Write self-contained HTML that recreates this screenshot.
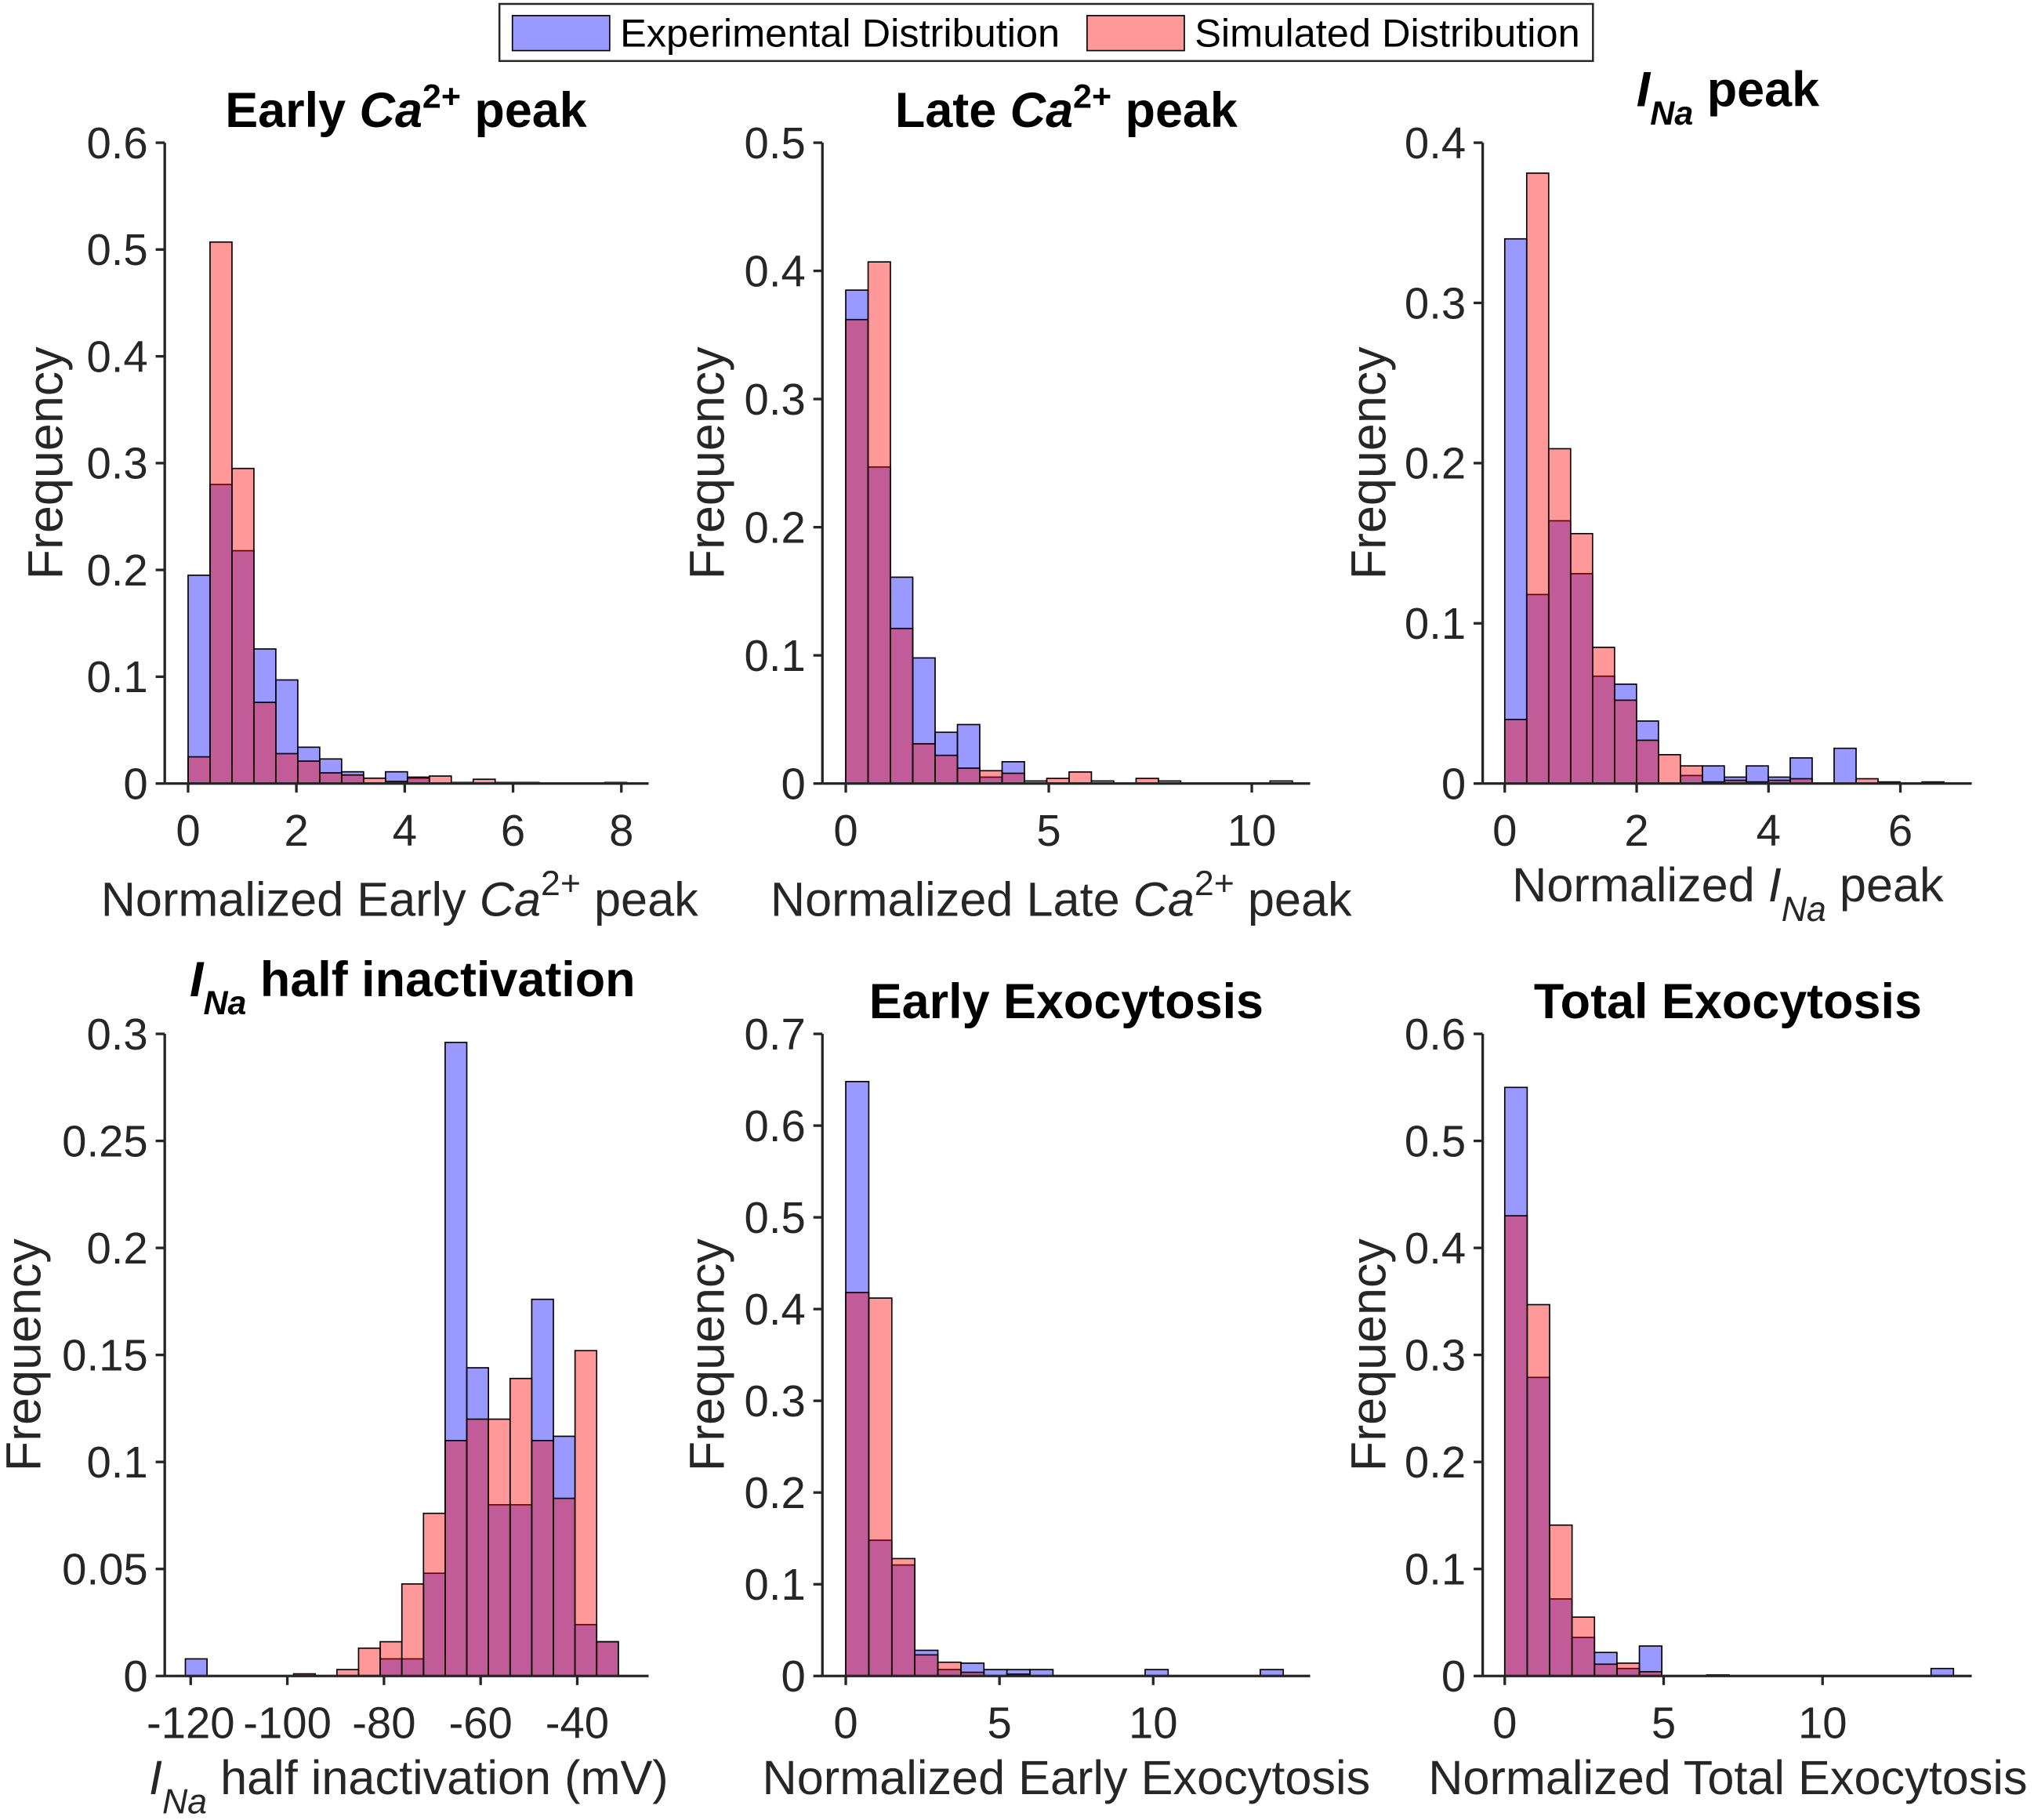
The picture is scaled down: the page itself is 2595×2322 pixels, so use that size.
<!DOCTYPE html>
<html><head><meta charset="utf-8">
<style>
html,body{margin:0;padding:0;background:#fff;}
svg{display:block;font-family:"Liberation Sans",Arial,sans-serif;}
</style></head>
<body>
<svg id="fig" xmlns="http://www.w3.org/2000/svg" width="2595" height="2322" viewBox="0 0 1568 1403">
<rect x="0" y="0" width="1568" height="1403" fill="#fff"/>
<g>
<rect x="385" y="3" width="843" height="44" fill="#fff" stroke="#262626" stroke-width="1.5"/>
<rect x="395" y="12" width="75" height="27" fill="#9999ff" stroke="#000" stroke-width="1"/>
<text x="478" y="36" font-size="30.5" fill="#000" textLength="339" lengthAdjust="spacingAndGlyphs">Experimental Distribution</text>
<rect x="838" y="12" width="75" height="27" fill="#ff9999" stroke="#000" stroke-width="1"/>
<text x="921" y="36" font-size="30.5" fill="#000" textLength="297" lengthAdjust="spacingAndGlyphs">Simulated Distribution</text>
</g>
</svg>
<script>
// ---- data arrays (bin starts, bin widths, frequencies) ----
const p1Start = 0, p1Width = 0.405;
const p1Exp = [0.195,0.28,0.218,0.126,0.097,0.034,0.023,0.011,0,0.011,0.005,0,0,0,0,0,0,0,0,0];
const p1Sim = [0.025,0.507,0.295,0.076,0.028,0.021,0.010,0.008,0.005,0.002,0.006,0.007,0.001,0.004,0.001,0.001,0.0005,0.0005,0.0005,0.001];
const p1XTicks = [0,2,4,6,8];
const p1YTicks = [0,0.1,0.2,0.3,0.4,0.5,0.6];

const p2Start = 0, p2Width = 0.55;
const p2Exp = [0.385,0.247,0.161,0.098,0.040,0.046,0.005,0.017,0,0,0,0,0,0,0,0,0,0,0,0];
const p2Sim = [0.362,0.407,0.121,0.031,0.022,0.012,0.010,0.008,0.002,0.004,0.009,0.002,0.0005,0.004,0.002,0,0,0,0,0.002];
const p2XTicks = [0,5,10];
const p2YTicks = [0,0.1,0.2,0.3,0.4,0.5];

const p3Start = 0, p3Width = 0.333;
const p3Exp = [0.34,0.118,0.164,0.131,0.067,0.062,0.039,0,0.005,0.011,0.004,0.011,0.004,0.016,0,0.022,0,0,0,0];
const p3Sim = [0.04,0.381,0.209,0.156,0.085,0.052,0.027,0.018,0.011,0.001,0.002,0.001,0.002,0.003,0,0,0.003,0.001,0,0.001];
const p3XTicks = [0,2,4,6];
const p3YTicks = [0,0.1,0.2,0.3,0.4];

const p4Start = -121.1, p4Width = 4.48;
const p4Exp = [0.008,0,0,0,0,0,0,0,0,0.008,0.008,0.048,0.296,0.144,0.08,0.08,0.176,0.112,0.024,0.016];
const p4Sim = [0,0,0,0,0,0.001,0,0.003,0.013,0.016,0.043,0.076,0.11,0.12,0.12,0.139,0.11,0.083,0.152,0.016];
const p4XTicks = [-120,-100,-80,-60,-40];
const p4YTicks = [0,0.05,0.1,0.15,0.2,0.25,0.3];

const p5Start = 0, p5Width = 0.749;
const p5Exp = [0.648,0.148,0.121,0.028,0.007,0.014,0.007,0.007,0.007,0,0,0,0,0.007,0,0,0,0,0.007];
const p5Sim = [0.418,0.412,0.128,0.023,0.015,0.004,0,0.002,0,0,0,0,0,0,0,0,0,0,0];
const p5XTicks = [0,5,10];
const p5YTicks = [0,0.1,0.2,0.3,0.4,0.5,0.6,0.7];

const p6Start = 0, p6Width = 0.706;
const p6Exp = [0.55,0.279,0.072,0.036,0.022,0.007,0.028,0,0,0,0,0,0,0,0,0,0,0,0,0.007];
const p6Sim = [0.43,0.347,0.141,0.055,0.011,0.012,0.004,0,0,0.001,0,0,0,0,0,0,0,0,0,0];
const p6XTicks = [0,5,10];
const p6YTicks = [0,0.1,0.2,0.3,0.4,0.5,0.6];

const NS = "http://www.w3.org/2000/svg";
const svg = document.getElementById('fig');
function mk(tag, attrs, parent){
  const e = document.createElementNS(NS, tag);
  for (const k in attrs) e.setAttribute(k, attrs[k]);
  parent.appendChild(e);
  return e;
}
const layouts = [
 {name:'early-ca-peak', left:127, xv0:0, xp0:145, xv1:8, xp1:479, right:500, bottom:604, top:110, ymax:0.6, start:p1Start, w:p1Width, exp:p1Exp, sim:p1Sim, xt:p1XTicks, yt:p1YTicks, ylx:35},
 {name:'late-ca-peak', left:634, xv0:0, xp0:652, xv1:10, xp1:965, right:1010, bottom:604, top:110, ymax:0.5, start:p2Start, w:p2Width, exp:p2Exp, sim:p2Sim, xt:p2XTicks, yt:p2YTicks, ylx:545},
 {name:'ina-peak', left:1143, xv0:0, xp0:1160, xv1:6, xp1:1465, right:1520, bottom:604, top:110, ymax:0.4, start:p3Start, w:p3Width, exp:p3Exp, sim:p3Sim, xt:p3XTicks, yt:p3YTicks, ylx:1055},
 {name:'ina-half-inactivation', left:127, xv0:-120, xp0:147, xv1:-40, xp1:445, right:500, bottom:1292, top:797, ymax:0.3, start:p4Start, w:p4Width, exp:p4Exp, sim:p4Sim, xt:p4XTicks, yt:p4YTicks, ylx:18},
 {name:'early-exocytosis', left:634, xv0:0, xp0:652, xv1:10, xp1:889, right:1010, bottom:1292, top:797, ymax:0.7, start:p5Start, w:p5Width, exp:p5Exp, sim:p5Sim, xt:p5XTicks, yt:p5YTicks, ylx:545},
 {name:'total-exocytosis', left:1143, xv0:0, xp0:1160, xv1:10, xp1:1405, right:1520, bottom:1292, top:797, ymax:0.6, start:p6Start, w:p6Width, exp:p6Exp, sim:p6Sim, xt:p6XTicks, yt:p6YTicks, ylx:1055}
];
layouts.forEach(L => {
  const g = mk('g', {}, svg);
  
  
  const X = v => L.xp0 + (v - L.xv0) * (L.xp1 - L.xp0) / (L.xv1 - L.xv0);
  const Y = v => L.bottom - v * (L.bottom - L.top) / L.ymax;
  const drawSeries = (arr, color, nm) => {
    arr.forEach((v, i) => {
      if (v <= 0) return;
      const x0 = X(L.start + i * L.w), x1 = X(L.start + (i + 1) * L.w);
      const r = mk('rect', {x:x0, y:Y(v), width:x1 - x0, height:L.bottom - Y(v), fill:color, 'fill-opacity':0.4, stroke:'#000', 'stroke-width':1}, g);
      
      
    });
  };
  drawSeries(L.exp, '#0000ff', 'experimental');
  drawSeries(L.sim, '#ff0000', 'simulated');
  const ya = mk('line', {x1:L.left, y1:L.top, x2:L.left, y2:L.bottom, stroke:'#262626', 'stroke-width':2}, g);
  
  
  const xa = mk('line', {x1:L.left, y1:L.bottom, x2:L.right, y2:L.bottom, stroke:'#262626', 'stroke-width':2}, g);
  
  
  L.yt.forEach(t => {
    const y = Y(t);
    mk('line', {x1:L.left - 7, y1:y, x2:L.left, y2:y, stroke:'#262626', 'stroke-width':2}, g);
    const tx = mk('text', {x:L.left - 13, y:y + 12, 'font-size':34, 'text-anchor':'end', fill:'#262626'}, g);
    
    
    tx.textContent = String(t);
  });
  L.xt.forEach(t => {
    const x = X(t);
    mk('line', {x1:x, y1:L.bottom, x2:x, y2:L.bottom + 7, stroke:'#262626', 'stroke-width':2}, g);
    const tx = mk('text', {x:x, y:L.bottom + 48, 'font-size':34, 'text-anchor':'middle', fill:'#262626'}, g);
    
    
    tx.textContent = String(t);
  });
  const yl = mk('text', {x:0, y:0, 'font-size':38, 'text-anchor':'middle', fill:'#262626', transform:'translate(' + (L.ylx + 13) + ',' + ((L.top + L.bottom) / 2) + ') rotate(-90)'}, g);
  
  
  yl.textContent = 'Frequency';
});
const labels = [
 {nm:'title-early-ca', x:313, y:98, bold:true, html:'Early <tspan font-style="italic">Ca</tspan><tspan dy="-15" font-size="26">2+</tspan><tspan dy="15"> peak</tspan>'},
 {nm:'title-late-ca', x:822, y:98, bold:true, html:'Late <tspan font-style="italic">Ca</tspan><tspan dy="-15" font-size="26">2+</tspan><tspan dy="15"> peak</tspan>'},
 {nm:'title-ina-peak', x:1332, y:82, bold:true, html:'<tspan font-style="italic">I</tspan><tspan dy="14" font-size="26" font-style="italic">Na</tspan><tspan dy="-14"> peak</tspan>'},
 {nm:'title-ina-half', x:318, y:768, bold:true, html:'<tspan font-style="italic">I</tspan><tspan dy="14" font-size="26" font-style="italic">Na</tspan><tspan dy="-14"> half inactivation</tspan>'},
 {nm:'title-early-exo', x:822, y:785, bold:true, html:'Early Exocytosis'},
 {nm:'title-total-exo', x:1332, y:785, bold:true, html:'Total Exocytosis'},
 {nm:'xlabel-early-ca', x:308, y:706, bold:false, html:'Normalized Early <tspan font-style="italic">Ca</tspan><tspan dy="-16" font-size="27">2+</tspan><tspan dy="16"> peak</tspan>'},
 {nm:'xlabel-late-ca', x:818, y:706, bold:false, html:'Normalized Late <tspan font-style="italic">Ca</tspan><tspan dy="-16" font-size="27">2+</tspan><tspan dy="16"> peak</tspan>'},
 {nm:'xlabel-ina-peak', x:1332, y:695, bold:false, html:'Normalized <tspan font-style="italic">I</tspan><tspan dy="15" font-size="27" font-style="italic">Na</tspan><tspan dy="-15"> peak</tspan>'},
 {nm:'xlabel-ina-half', x:315, y:1383, bold:false, html:'<tspan font-style="italic">I</tspan><tspan dy="15" font-size="27" font-style="italic">Na</tspan><tspan dy="-15"> half inactivation (mV)</tspan>'},
 {nm:'xlabel-early-exo', x:822, y:1383, bold:false, html:'Normalized Early Exocytosis'},
 {nm:'xlabel-total-exo', x:1332, y:1383, bold:false, html:'Normalized Total Exocytosis'}
];
labels.forEach(l => {
  const t = mk('text', {x:l.x, y:l.y, 'font-size':l.bold ? 38 : 37, 'font-weight':l.bold ? 'bold' : 'normal', 'text-anchor':'middle', fill:l.bold ? '#000' : '#262626'}, svg);
  
  
  t.innerHTML = l.html;
});
</script>
</body></html>
